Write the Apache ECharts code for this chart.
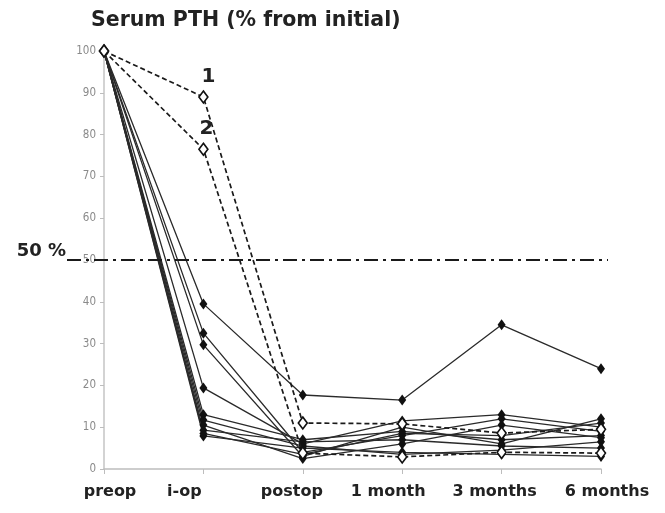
<!DOCTYPE html>
<html>
<head>
<meta charset="utf-8">
<script src="https://cdn.jsdelivr.net/npm/echarts@6/dist/echarts.min.js"></script>
<style>html,body{margin:0;padding:0;background:#fff}#c{width:665px;height:513px}</style>
</head>
<body>
<div id="c"></div>
<script>
// ---- data ----
const categories = ['preop', 'i-op', 'postop', '1 month', '3 months', '6 months'];
const titleText = 'Serum PTH (% from initial)';
const thresholdValue = 50;
const thresholdLabel = '50 %';
const solidA = [100, 39.5, 17.7, 16.5, 34.5, 24];
const solidB = [100, 32.5, 4, 8, 12, 9];
const solidC = [100, 29.7, 3, 10, 6, 12];
const solidD = [100, 19.4, 6, 11.5, 13, 10];
const solidE = [100, 13, 7, 9, 7, 8];
const solidF = [100, 11.7, 5.5, 3.5, 4.5, 6.5];
const solidG = [100, 10.5, 2.5, 6, 10.5, 7.5];
const solidH = [100, 9.3, 6.5, 7, 5.5, 5];
const solidI = [100, 7.9, 5, 4, 3.5, 3];
const solidJ = [100, 8.5, 3.5, 8.5, 8, 11];
const dashed1 = [100, 89, 11, 10.8, 8.6, 9.5];
const dashed2 = [100, 76.5, 3.8, 2.9, 4, 3.8];
const dashedNames = ['1', '2'];

// ---- styling ----
const boldFont = 'DejaVu Sans, Liberation Sans, Arial, sans-serif';
const labelShift = [12, -38, -22, -28, -14, 12];
const solidList = [solidA, solidB, solidC, solidD, solidE, solidF, solidG, solidH, solidI, solidJ];

const series = solidList.map((d, i) => ({
  type: 'line', xAxisIndex: 0, yAxisIndex: 0, data: d, z: 3,
  symbol: 'diamond', symbolSize: [8, 11],
  lineStyle: { color: '#2a2a2a', width: 1.3 },
  itemStyle: { color: '#111' },
  animation: false
}));
[dashed1, dashed2].forEach((d, i) => {
  series.push({
    type: 'line', xAxisIndex: 0, yAxisIndex: 0, z: 4,
    data: d.map((v, j) => j === 1 ? {
      value: v,
      label: { show: true, formatter: dashedNames[i], position: 'top',
        offset: i === 0 ? [5, 2] : [3, 1],
        fontFamily: boldFont, fontWeight: 'bold', fontSize: 20, color: '#222' }
    } : v),
    symbol: 'diamond', symbolSize: [9, 12],
    lineStyle: { color: '#1a1a1a', width: 1.7, type: [5, 3] },
    itemStyle: { color: '#fff', borderColor: '#111', borderWidth: 1.6 },
    animation: false
  });
});
// threshold line in a wider, invisible grid
series.push({
  type: 'line', xAxisIndex: 1, yAxisIndex: 1, data: [], silent: true,
  markLine: {
    silent: true, symbol: 'none', animation: false,
    lineStyle: { color: '#1a1a1a', width: 2.2, type: [14, 5, 3, 5] },
    label: { show: true, position: 'start', formatter: thresholdLabel, distance: 1,
      fontFamily: boldFont, fontWeight: 'bold', fontSize: 18, color: '#222',
      offset: [0, -9] },
    data: [{ yAxis: thresholdValue }]
  }
});

const chart = echarts.init(document.getElementById('c'), null, { renderer: 'canvas' });
chart.setOption({
  backgroundColor: '#fff',
  animation: false,
  title: {
    text: titleText, left: 86, top: 5,
    textStyle: { fontFamily: boldFont, fontWeight: 'bold', fontSize: 20.5, color: '#222' }
  },
  grid: [
    { left: 104, right: 64, top: 51, bottom: 44, containLabel: false },
    { left: 67, right: 57, top: 51, bottom: 44, containLabel: false }
  ],
  xAxis: [{
    type: 'category', data: categories, boundaryGap: false, gridIndex: 0,
    axisLine: { lineStyle: { color: '#bdbdbd', width: 1.5 } },
    axisTick: { show: true, alignWithLabel: true, length: 5, lineStyle: { color: '#bdbdbd' } },
    axisLabel: {
      interval: 0, margin: 15, color: '#222',
      fontFamily: boldFont, fontWeight: 'bold', fontSize: 16,
      formatter: (v, i) => '{s' + i + '|' + v + '}',
      rich: Object.fromEntries(labelShift.map((s, i) => ['s' + i, {
        fontFamily: boldFont, fontWeight: 'bold', fontSize: 16, color: '#222',
        padding: s > 0 ? [0, 0, 0, s] : [0, -s, 0, 0]
      }]))
    }
  }, {
    type: 'category', data: [0, 1], boundaryGap: false, gridIndex: 1, show: false
  }],
  yAxis: [{
    type: 'value', min: 0, max: 100, interval: 10, gridIndex: 0,
    axisLine: { show: true, lineStyle: { color: '#c4c4c4', width: 1.5 } },
    axisTick: { show: true, length: 4, lineStyle: { color: '#bdbdbd' } },
    splitLine: { show: false },
    axisLabel: { color: '#8a8a8a', fontFamily: 'DejaVu Sans Condensed, Liberation Sans Narrow, sans-serif', fontSize: 11.5, margin: 8 }
  }, {
    type: 'value', min: 0, max: 100, gridIndex: 1, show: false
  }],
  series: series
});
</script>
</body>
</html>
